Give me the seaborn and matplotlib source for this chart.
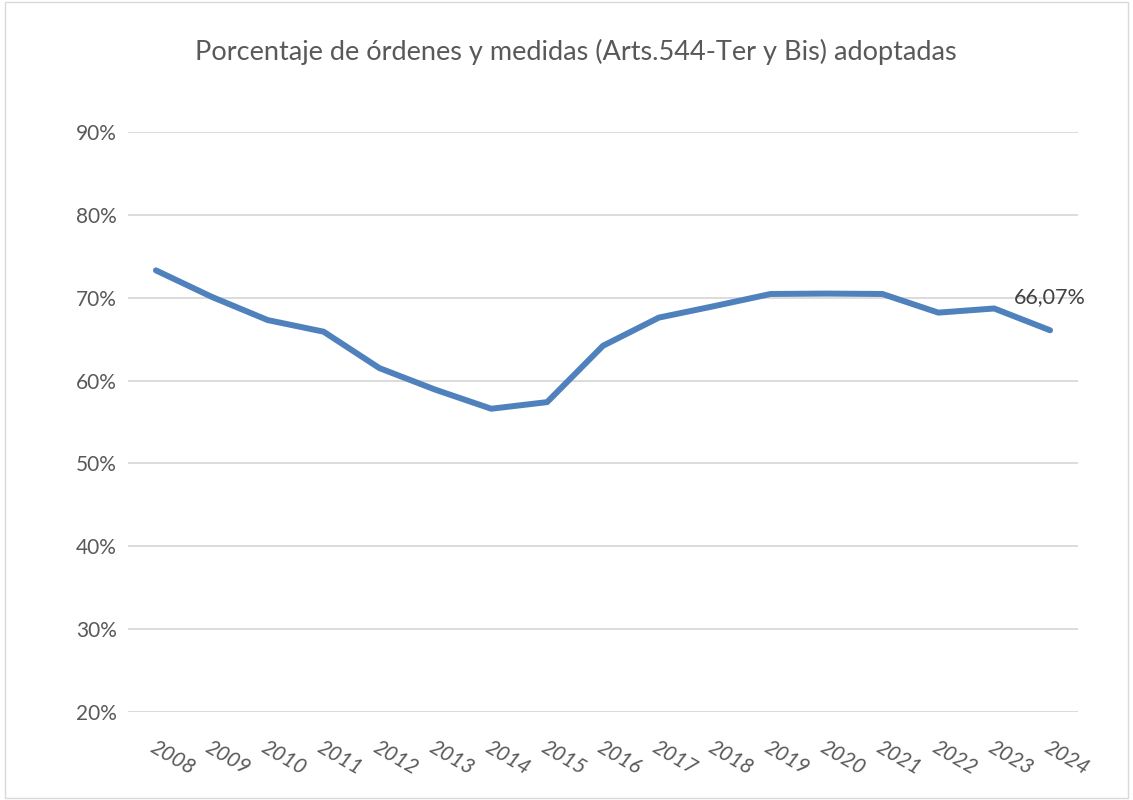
import pandas as pd
import matplotlib.pyplot as plt
import seaborn as sns
from matplotlib.ticker import PercentFormatter
from matplotlib.patches import Rectangle

years = [str(y) for y in range(2008, 2025)]
pct = [73.3, 70.1, 67.3, 65.9, 61.5, 58.9, 56.6, 57.4, 64.2,
       67.6, 69.0, 70.45, 70.5, 70.45, 68.2, 68.7, 66.07]
last_label = "66,07%"
title = "Porcentaje de órdenes y medidas (Arts.544-Ter y Bis) adoptadas"

df = pd.DataFrame({"year": years, "value": [v / 100 for v in pct]})

sns.set_theme(style="white")
plt.rcParams['font.family'] = ['Lato', 'DejaVu Sans']

fig = plt.figure(figsize=(11.33, 8), dpi=100)
ax = fig.add_axes([128 / 1133, 1 - 712 / 800, 950 / 1133, 580 / 800])

sns.lineplot(data=df, x="year", y="value", color="#4F81BD", linewidth=4.3,
             solid_capstyle="round", solid_joinstyle="round", ax=ax, sort=False)

ax.set_xlim(-0.5, len(years) - 0.5)
ax.set_ylim(0.2, 0.9)
ax.set_yticks([0.2, 0.3, 0.4, 0.5, 0.6, 0.7, 0.8, 0.9])
ax.yaxis.set_major_formatter(PercentFormatter(1, decimals=0))
ax.grid(axis="y", color="#D9D9D9", linewidth=1.3)
ax.set_axisbelow(True)
for s in ax.spines.values():
    s.set_visible(False)
ax.set_xlabel("")
ax.set_ylabel("")
ax.tick_params(axis="both", length=0, colors="#595959", labelsize=15)
ax.tick_params(axis="y", pad=8)
for lbl in ax.get_xticklabels():
    lbl.set_rotation(-30)
    lbl.set_ha("left")
    lbl.set_va("top")
    lbl.set_rotation_mode("anchor")
    lbl.set_style("italic")
ax.tick_params(axis="x", pad=18)

ax.annotate(last_label, xy=(len(years) - 1, pct[-1] / 100), xytext=(0, 24),
            textcoords="offset points", ha="center", va="center",
            fontsize=15.5, color="#404040")

fig.text(576 / 1133, 1 - 52 / 800, title, ha="center", va="center",
         fontsize=19.5, color="#595959")

fig.patches.append(Rectangle((0.004, 0.003), 0.992, 0.994, transform=fig.transFigure,
                             fill=False, edgecolor="#D9D9D9", linewidth=1))

fig.savefig("out.png", dpi=100)
